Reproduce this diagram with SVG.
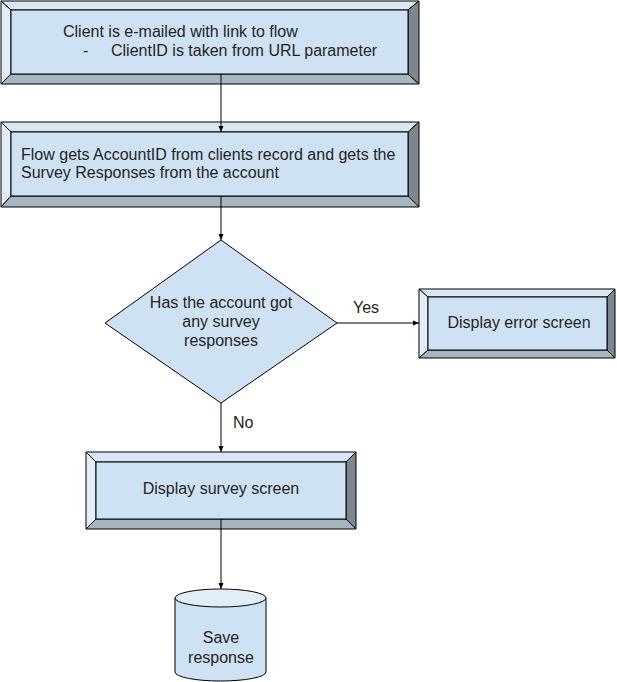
<svg xmlns="http://www.w3.org/2000/svg" width="617" height="682" viewBox="0 0 617 682">
<defs>
<style>
text{font-family:"Liberation Sans",Arial,sans-serif;font-size:16px;fill:#1f1f1f}
.c{text-anchor:middle}
.fill{fill:#cfe2f3;stroke:#000;stroke-width:1}
.bt{fill:#dae8f5;stroke:#000;stroke-width:1;stroke-linejoin:round}
.bl{fill:#e2edf8;stroke:#000;stroke-width:1;stroke-linejoin:round}
.bb{fill:#a6b5c2;stroke:#000;stroke-width:1;stroke-linejoin:round}
.br{fill:#7c8792;stroke:#000;stroke-width:1;stroke-linejoin:round}
.edge{fill:none;stroke:#000;stroke-width:1}
</style>
<marker id="ah" markerUnits="userSpaceOnUse" markerWidth="7" markerHeight="6" refX="6" refY="3" orient="auto">
<path d="M0,0.5 L6,3 L0,5.5 z" fill="#000"/>
</marker>
</defs>
<g id="node-email">
<polygon class="bt" points="1,1 419,1 408,10 11,10"/>
<polygon class="bl" points="1,1 11,10 11,74 1,84"/>
<polygon class="bb" points="1,84 11,74 408,74 419,84"/>
<polygon class="br" points="419,1 419,84 408,74 408,10"/>
<rect class="fill" x="11" y="10" width="397" height="64"/>
<text x="63" y="37">Client is e-mailed with link to flow</text>
<text x="83" y="56">-</text>
<text x="111" y="56">ClientID is taken from URL parameter</text>
</g>
<g id="node-flow">
<polygon class="bt" points="1,122 419,122 408,132 11,132"/>
<polygon class="bl" points="1,122 11,132 11,196 1,207"/>
<polygon class="bb" points="1,207 11,196 408,196 419,207"/>
<polygon class="br" points="419,122 419,207 408,196 408,132"/>
<rect class="fill" x="11" y="132" width="397" height="64"/>
<text x="21" y="160">Flow gets AccountID from clients record and gets the</text>
<text x="21" y="178">Survey Responses from the account</text>
</g>
<g id="node-decision">
<polygon class="fill" points="221,240 337,323 221,403 105,323"/>
<text class="c" x="221" y="308">Has the account got</text>
<text class="c" x="221" y="327">any survey</text>
<text class="c" x="221" y="346">responses</text>
</g>
<g id="node-error">
<polygon class="bt" points="419,289 615,289 607,297 428,297"/>
<polygon class="bl" points="419,289 428,297 428,350 419,358"/>
<polygon class="bb" points="419,358 428,350 607,350 615,358"/>
<polygon class="br" points="615,289 615,358 607,350 607,297"/>
<rect class="fill" x="428" y="297" width="179" height="53"/>
<text class="c" x="519" y="328">Display error screen</text>
</g>
<g id="node-survey">
<polygon class="bt" points="86,452 356,452 346,462 96,462"/>
<polygon class="bl" points="86,452 96,462 96,519 86,529"/>
<polygon class="bb" points="86,529 96,519 346,519 356,529"/>
<polygon class="br" points="356,452 356,529 346,519 346,462"/>
<rect class="fill" x="96" y="462" width="250" height="57"/>
<text class="c" x="221" y="494">Display survey screen</text>
</g>
<g id="node-save">
<path class="fill" d="M175,598 L175,672 A45.5,9 0 0 0 266,672 L266,598"/>
<ellipse cx="220.5" cy="598" rx="45.5" ry="9" fill="#e2edf8" stroke="#000" stroke-width="1"/>
<text class="c" x="221" y="643">Save</text>
<text class="c" x="221" y="663">response</text>
</g>
<g id="connectors">
<line class="edge" x1="221" y1="74" x2="221" y2="132" marker-end="url(#ah)"/>
<line class="edge" x1="221" y1="196" x2="221" y2="240" marker-end="url(#ah)"/>
<line class="edge" x1="337" y1="323" x2="419" y2="323" marker-end="url(#ah)"/>
<line class="edge" x1="221" y1="403" x2="221" y2="452" marker-end="url(#ah)"/>
<line class="edge" x1="221" y1="519" x2="221" y2="589" marker-end="url(#ah)"/>
<text x="353" y="313">Yes</text>
<text x="233" y="428">No</text>
</g>
</svg>
